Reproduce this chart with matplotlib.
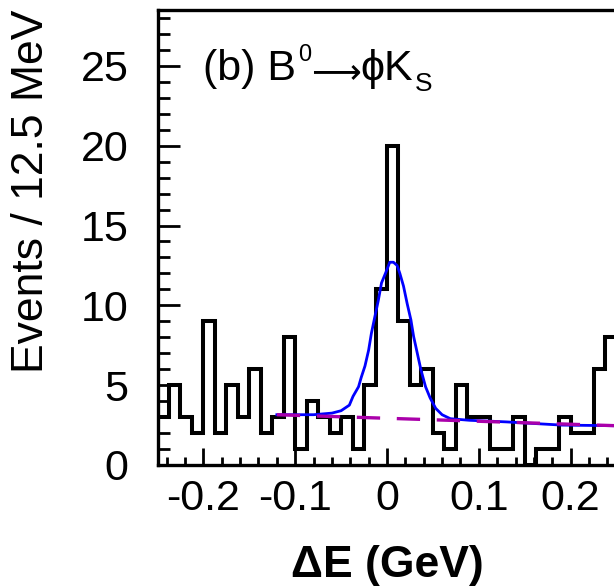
import numpy as np
import matplotlib
matplotlib.use("Agg")
import matplotlib.pyplot as plt

plt.rcParams['font.family'] = ['Liberation Sans', 'DejaVu Sans']
plt.rcParams['axes.unicode_minus'] = False

# histogram: 40 bins of 12.5 MeV from -0.25 to 0.25 GeV
x_lo, x_hi, n_bins = -0.25, 0.25, 40
counts = [3, 5, 3, 2, 9, 2, 5, 3, 6, 2,
          3, 8, 1, 4, 3, 2, 3, 1, 5, 11,
          20, 9, 5, 6, 2, 1, 5, 3, 3, 1,
          1, 3, 0, 1, 1, 3, 2, 2, 6, 8]

# total fit (signal + background)
fit_x = [-0.120, -0.080, -0.060, -0.050, -0.041, -0.037, -0.031, -0.028,
         -0.024, -0.020, -0.017, -0.013, -0.0095, -0.006, -0.001, 0.003,
         0.007, 0.011, 0.014, 0.018, 0.022, 0.026, 0.029, 0.033, 0.037,
         0.042, 0.047, 0.053, 0.060, 0.069, 0.090, 0.130, 0.190, 0.250]
fit_y = [3.15, 3.15, 3.25, 3.4, 3.75, 4.3, 4.9, 5.5,
         6.2, 7.2, 8.25, 9.35, 10.3, 11.4, 12.1, 12.7,
         12.7, 12.5, 12.0, 11.2, 10.1, 9.1, 8.05, 7.0, 5.95,
         4.9, 4.2, 3.55, 3.15, 2.9, 2.8, 2.7, 2.5, 2.46]

# background component (straight line)
bkg_x = [-0.12, 0.25]
bkg_y = [3.15, 2.46]

xticks = [-0.2, -0.1, 0.0, 0.1, 0.2]
xtick_labels = ['-0.2', '-0.1', '0', '0.1', '0.2']
yticks = [0, 5, 10, 15, 20, 25]

fig = plt.figure(figsize=(6.14, 5.87), dpi=100)
ax = fig.add_axes([157.5 / 614, 1 - 465 / 587, 459 / 614, 455 / 587])

edges = np.linspace(x_lo, x_hi, n_bins + 1)
ax.stairs(counts, edges, baseline=None, color='black', lw=2.9, zorder=2)
ax.plot(fit_x, fit_y, color='#0000ff', lw=2.0, zorder=3)
ax.plot(bkg_x, bkg_y, color='#aa00aa', lw=2.4, dashes=(7, 5), zorder=4)

ax.set_xlim(x_lo, x_hi)
ax.set_ylim(0, 28.5)
ax.set_xticks(xticks, labels=xtick_labels)
ax.set_xticks(np.arange(-0.24, 0.25, 0.02), minor=True)
ax.set_yticks(yticks)
ax.set_yticks(np.arange(0, 29, 1), minor=True)

for s in ax.spines.values():
    s.set_linewidth(2.4)
ax.tick_params(axis='both', which='both', direction='in', width=2.0,
               top=False, right=False, labelsize=31)
ax.tick_params(axis='y', which='major', length=15.8, pad=21)
ax.tick_params(axis='y', which='minor', length=8.6)
ax.tick_params(axis='x', which='major', length=12, pad=10)
ax.tick_params(axis='x', which='minor', length=6)

# label "(b) B0 -> phi K_S" built from pieces so super/subscripts fit
t1 = ax.text(0.10, 0.826, '(b) B', transform=ax.transAxes,
             fontsize=31, va='bottom', ha='left')
t2 = ax.annotate('0', xy=(1, 0), xycoords=t1, xytext=(1, 17),
                 textcoords='offset points', fontsize=17, va='bottom')
t3 = ax.annotate('⟶', xy=(1, 0), xycoords=t2, xytext=(0, -17),
                 textcoords='offset points', fontsize=25, va='bottom',
                 family='DejaVu Sans')
t4 = ax.annotate('ϕK', xy=(1, 0), xycoords=t3, xytext=(0, 0),
                 textcoords='offset points', fontsize=31, va='bottom')
ax.annotate('S', xy=(1, 0), xycoords=t4, xytext=(1, -5),
            textcoords='offset points', fontsize=19, va='bottom')

fig.text(32 / 614, 1 - 10 / 587, 'Events / 12.5 MeV', rotation=90,
         va='top', ha='center', fontsize=32)
fig.text(387 / 614, 1 - 565 / 587, 'ΔE (GeV)', va='center', ha='center',
         fontsize=32, fontweight='bold')

fig.savefig('out.png', dpi=100)
